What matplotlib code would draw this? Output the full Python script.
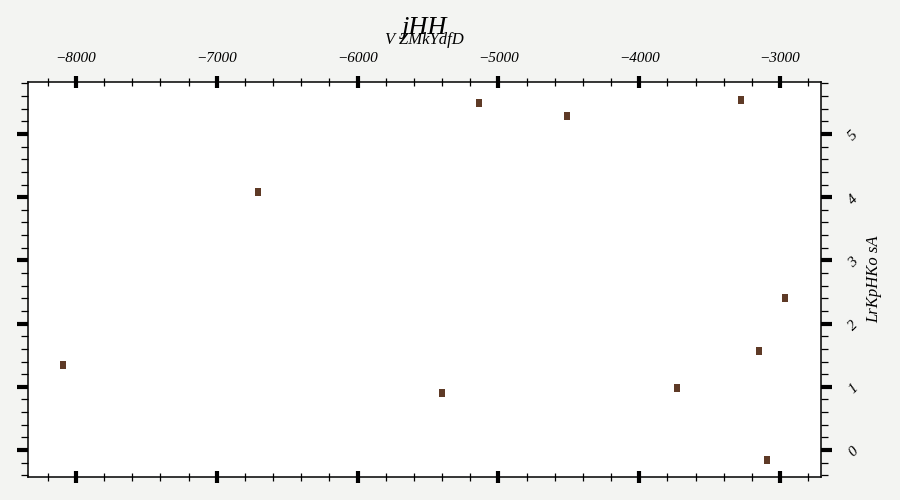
import matplotlib
matplotlib.use("Agg")
import matplotlib.pyplot as plt
from matplotlib.ticker import MultipleLocator

x_vals = [-8092, -6707, -5401, -5138, -4513, -3732, -3277, -3149, -3092, -2964]
y_vals = [1.345, 4.08, 0.90, 5.49, 5.285, 0.98, 5.54, 1.566, -0.158, 2.405]
x_ticks = [-8000, -7000, -6000, -5000, -4000, -3000]
y_ticks = [0, 1, 2, 3, 4, 5]

plt.rcParams['font.family'] = ['Liberation Serif', 'DejaVu Serif']
plt.rcParams['font.style'] = 'italic'

fig = plt.figure(figsize=(9, 5), dpi=100, facecolor='#f3f4f2')
ax = fig.add_axes([28/900, 1-477/500, (821-28)/900, (477-82)/500])
ax.set_facecolor('white')

rect = [(-0.5, -0.75), (0.5, -0.75), (0.5, 0.75), (-0.5, 0.75), (-0.5, -0.75)]
ax.scatter(x_vals, y_vals, marker=rect, s=30, color='#5e3a26', linewidths=0)

ax.set_xlim(-8341, -2709)
ax.set_ylim(-0.427, 5.823)
ax.set_xticks(x_ticks)
ax.set_yticks(y_ticks)
ax.xaxis.set_minor_locator(MultipleLocator(200))
ax.yaxis.set_minor_locator(MultipleLocator(0.2))

ax.xaxis.tick_top()
ax.xaxis.set_label_position('top')
ax.yaxis.tick_right()
ax.yaxis.set_label_position('right')

ax.tick_params(axis='x', which='major', direction='inout', length=8, width=3,
               top=True, bottom=True, labeltop=True, labelbottom=False,
               labelsize=11, pad=8)
ax.tick_params(axis='x', which='minor', direction='inout', length=6, width=0.9,
               top=True, bottom=True)
ax.tick_params(axis='y', which='major', direction='out', length=8, width=3,
               left=True, right=True, labelright=True, labelleft=False,
               labelsize=11, pad=10, labelrotation=45)
ax.tick_params(axis='y', which='minor', direction='out', length=5, width=0.9,
               left=True, right=True)

for s in ax.spines.values():
    s.set_linewidth(1.1)

ax.set_xlabel('V ZMkYdfD', fontsize=12, labelpad=6)
ax.set_ylabel('LrKpHKo sA', fontsize=12, labelpad=4)
fig.text((28 + 821) / 2 / 900, 1 - 28 / 500, 'jHH', fontsize=19,
         ha='center', va='center')

fig.savefig('out.png', dpi=100, facecolor=fig.get_facecolor())
